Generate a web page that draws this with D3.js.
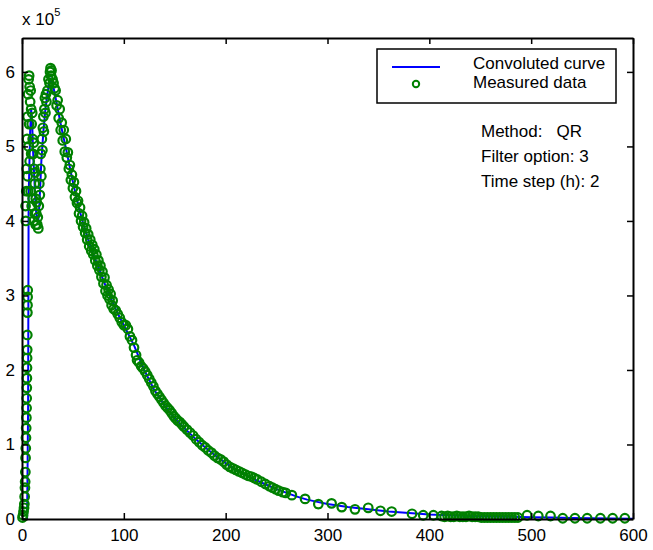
<!DOCTYPE html>
<html>
<head>
<meta charset="utf-8">
<script src="https://cdn.jsdelivr.net/npm/d3@7"></script>
<style>
  html, body { margin: 0; padding: 0; background: #fff; }
  svg { display: block; font-family: "Liberation Sans", Arial, sans-serif; }
</style>
</head>
<body>
<svg id="chart" width="653" height="550"></svg>
<script>
// Values are in units of 10^5 (axis multiplier "x 10^5")
const xTicks = [0, 100, 200, 300, 400, 500, 600];
const yTicks = [0, 1, 2, 3, 4, 5, 6];

// Convoluted curve (blue line)
const curveTime = [0, 5, 6, 6.5, 7, 8, 9, 10, 11, 12, 13, 14, 15, 16, 17, 18, 19, 20, 21, 22, 23, 24, 25, 26, 27, 28, 29, 30, 32, 34, 36, 38, 40, 44, 48, 52, 56, 60, 65, 70, 75, 80, 85, 90, 95, 100, 110, 120, 130, 140, 150, 160, 170, 180, 190, 200, 210, 220, 230, 240, 250, 260, 270, 280, 290, 300, 320, 340, 360, 380, 400, 420, 440, 460, 480, 500, 520, 540, 560, 580, 600];
const curveValue = [0, 0, 1.5, 4.3, 4.6, 5.2, 5.5, 5.3, 4.9, 4.6, 4.3, 4.1, 4.0, 4.0, 4.2, 4.5, 4.8, 5.0, 5.2, 5.35, 5.5, 5.6, 5.7, 5.8, 5.85, 5.9, 5.88, 5.85, 5.72, 5.58, 5.44, 5.3, 5.17, 4.92, 4.65, 4.4, 4.17, 3.97, 3.75, 3.55, 3.38, 3.2, 3.03, 2.88, 2.73, 2.6, 2.33, 2.0, 1.73, 1.52, 1.35, 1.21, 1.08, 0.96, 0.85, 0.75, 0.66, 0.59, 0.52, 0.46, 0.40, 0.35, 0.30, 0.26, 0.23, 0.20, 0.16, 0.13, 0.10, 0.08, 0.06, 0.05, 0.04, 0.035, 0.03, 0.025, 0.02, 0.015, 0.01, 0.008, 0.005];

// Measured data (green circles)
const measuredTime = [
  0.5, 1, 1.5, 2, 2.3, 2.6, 2.9, 3.1, 3.3, 3.5, 3.7, 3.9, 4.1, 4.3, 4.5, 4.6, 4.7, 4.8, 4.9, 5, 5.1, 5.2, 5.3, 5.4, 5.5, 5.6,
  3.5, 3.8, 4.2, 4.6, 5, 5.5, 6, 6.5, 7, 7.5, 8, 8.5, 9, 9.5, 10, 10.5, 11, 11.5, 12, 12.5, 13, 13.5, 14, 14.5, 15, 15.5, 16,
  5.5, 6.5, 7.5, 8.5, 9.5, 10.5, 11.5, 12.5, 13.5, 7, 9, 6,
  16.5, 17, 17.5, 18, 18.5, 19, 19.5, 20, 20.5, 21, 21.5, 22, 22.5, 23, 23.5, 24, 25, 26, 27, 27.5, 28, 28.5, 29, 30,
  31, 32, 33, 34, 35, 36, 37, 38, 39, 40, 41, 42, 43, 44, 45, 46, 47, 48, 49, 50, 51, 52, 53, 54, 55, 56, 57, 58, 59, 60,
  61, 62, 63, 64, 65, 66, 67, 68, 69, 70, 71, 72, 73, 74, 75, 76, 77, 78, 79, 80, 81, 82, 83, 84, 85, 86, 87, 88, 89, 90,
  92, 94, 96, 98, 100, 102, 104, 106, 108, 110, 112, 113, 115, 117, 119, 121, 123, 125, 127, 129, 131, 133, 135, 137, 139,
  141, 143, 145, 147, 149, 151, 153, 155, 157, 159, 162, 165, 168, 171, 174, 177, 180, 183, 186, 189, 192, 195, 198, 201,
  204, 207, 210, 213, 216, 219, 222, 225, 228, 231, 235, 239, 243, 246, 249, 252, 256, 259, 265, 278, 291, 304, 314, 327,
  340, 352, 363, 383, 394, 404, 412, 415, 418, 421, 424, 427, 430, 433, 436, 439, 442, 445, 448, 451, 454, 457, 460, 463,
  466, 469, 472, 475, 478, 481, 484, 487, 496, 507, 519, 531, 543, 555, 568, 580, 592
];
const measuredValue = [
  0.02, 0.05, 0.1, 0.15, 0.2, 0.3, 0.42, 0.5, 0.63, 0.82, 0.95, 1.09, 1.22, 1.36, 1.49, 1.62, 1.76, 1.89, 2.03, 2.16, 2.27, 2.47, 2.77, 2.87, 2.98, 3.07,
  4.2, 4.0, 4.4, 4.7, 5.1, 5.4, 5.7, 5.9, 5.95, 5.8, 5.6, 5.75, 5.5, 5.3, 5.45, 5.1, 4.9, 5.05, 4.7, 4.5, 4.65, 4.3, 4.1, 4.25, 3.95, 4.05, 3.9,
  4.6, 5.0, 4.8, 4.4, 4.2, 4.3, 4.0, 4.1, 3.95, 5.3, 4.9, 4.4,
  4.2, 4.5, 4.35, 4.7, 4.9, 4.6, 5.1, 4.95, 5.25, 5.4, 5.2, 5.5, 5.65, 5.45, 5.7, 5.6, 5.75, 5.9, 5.85, 6.0, 6.05, 5.95, 6.02, 5.9,
  5.85, 5.78, 5.75, 5.55, 5.62, 5.38, 5.5, 5.22, 5.32, 5.08, 5.22, 4.93, 5.1, 4.85, 4.92, 4.7, 4.75, 4.55, 4.62, 4.44, 4.52, 4.32, 4.4, 4.24, 4.27, 4.1, 4.18, 4.0, 4.07, 3.92,
  3.98, 3.84, 3.9, 3.75, 3.82, 3.66, 3.75, 3.6, 3.68, 3.55, 3.62, 3.47, 3.55, 3.4, 3.47, 3.34, 3.4, 3.25, 3.32, 3.16, 3.24, 3.06, 3.14, 3.0, 3.08, 2.95, 3.02, 2.87, 2.93, 2.82,
  2.8, 2.75, 2.7, 2.64, 2.6, 2.6, 2.55, 2.45, 2.4, 2.3, 2.2, 2.13, 2.1, 2.05, 2.02, 1.98, 1.93, 1.88, 1.83, 1.78, 1.72, 1.68, 1.64, 1.6, 1.56,
  1.52, 1.49, 1.46, 1.42, 1.38, 1.35, 1.32, 1.3, 1.27, 1.24, 1.2, 1.16, 1.12, 1.07, 1.03, 0.99, 0.96, 0.92, 0.89, 0.85, 0.82, 0.8, 0.77, 0.73,
  0.7, 0.68, 0.66, 0.64, 0.62, 0.6, 0.58, 0.57, 0.55, 0.53, 0.5, 0.47, 0.44, 0.42, 0.4, 0.38, 0.36, 0.35, 0.32, 0.27, 0.2, 0.21, 0.16, 0.13,
  0.15, 0.11, 0.1, 0.07, 0.05, 0.05, 0.04, 0.03, 0.04, 0.03, 0.03, 0.04, 0.03, 0.03, 0.03, 0.04, 0.03, 0.03, 0.03, 0.02, 0.02, 0.02, 0.02, 0.02,
  0.02, 0.02, 0.02, 0.02, 0.02, 0.02, 0.02, 0.02, 0.05, 0.04, 0.04, 0.01, 0.01, 0.01, 0.01, 0.01, 0.01
];

const legendLabels = ["Convoluted curve", "Measured data"];
const infoLines = ["Method:   QR", "Filter option: 3", "Time step (h): 2"];

const padL = 22, padR = 633, padT = 38, padB = 519;
const svg = d3.select("#chart");
const x = d3.scaleLinear().domain([0, 600]).range([padL, padR]);
const y = d3.scaleLinear().domain([0, 6.455]).range([padB, padT]);

const green = "#008000", blue = "#0000ff";

// Curve
const curve = curveTime.map((t, i) => [t, curveValue[i]]);
svg.append("path")
  .datum(curve)
  .attr("fill", "none")
  .attr("stroke", blue)
  .attr("stroke-width", 2)
  .attr("d", d3.line().x(d => x(d[0])).y(d => y(d[1])));

// Measured
const meas = measuredTime.map((t, i) => [t, measuredValue[i]]);
svg.append("g").selectAll("circle")
  .data(meas)
  .join("circle")
  .attr("cx", d => x(d[0]))
  .attr("cy", d => y(d[1]))
  .attr("r", 4.3)
  .attr("fill", "none")
  .attr("stroke", green)
  .attr("stroke-width", 2.2);

// Axes
const fs = "17px";
const axB = svg.append("g").attr("transform", `translate(0,${padB})`)
  .call(d3.axisBottom(x).tickValues(xTicks).tickSizeInner(-6).tickSizeOuter(0).tickPadding(10).tickFormat(d3.format("d")));
const axT = svg.append("g").attr("transform", `translate(0,${padT})`)
  .call(d3.axisTop(x).tickValues(xTicks).tickSizeInner(-6).tickSizeOuter(0).tickFormat(""));
const axL = svg.append("g").attr("transform", `translate(${padL},0)`)
  .call(d3.axisLeft(y).tickValues(yTicks).tickSizeInner(-6).tickSizeOuter(0).tickPadding(7).tickFormat(d3.format("d")));
const axR = svg.append("g").attr("transform", `translate(${padR},0)`)
  .call(d3.axisRight(y).tickValues(yTicks).tickSizeInner(-6).tickSizeOuter(0).tickFormat(""));
[axB, axT, axL, axR].forEach(g => {
  g.select(".domain").attr("stroke", "#000").attr("stroke-width", 2);
  g.selectAll(".tick line").attr("stroke", "#000").attr("stroke-width", 1.5);
  g.selectAll(".tick text").attr("fill", "#000").style("font-size", fs)
    .style("font-family", '"Liberation Sans", Arial, sans-serif');
});

// Multiplier label
const mult = svg.append("text").attr("x", 22).attr("y", 25).style("font-size", fs).attr("fill", "#000");
mult.append("tspan").text("x 10");
mult.append("tspan").attr("dy", -9).style("font-size", "11px").text("5");

// Legend
const lg = svg.append("g");
lg.append("rect").attr("x", 377).attr("y", 49).attr("width", 239).attr("height", 54)
  .attr("fill", "#fff").attr("stroke", "#000").attr("stroke-width", 1.5);
lg.append("line").attr("x1", 392).attr("x2", 440).attr("y1", 67).attr("y2", 67)
  .attr("stroke", blue).attr("stroke-width", 2);
lg.append("circle").attr("cx", 416).attr("cy", 84).attr("r", 3.2)
  .attr("fill", "none").attr("stroke", green).attr("stroke-width", 2);
lg.selectAll("text.lab").data(legendLabels).join("text")
  .attr("class", "lab")
  .attr("x", 473).attr("y", (d, i) => 69 + i * 19)
  .style("font-size", fs).attr("fill", "#000").text(d => d);

// Info text
svg.append("g").selectAll("text").data(infoLines).join("text")
  .attr("x", 481).attr("y", (d, i) => 137 + i * 25)
  .style("font-size", fs).attr("fill", "#000")
  .attr("xml:space", "preserve").style("white-space", "pre")
  .text(d => d);
</script>
</body>
</html>
